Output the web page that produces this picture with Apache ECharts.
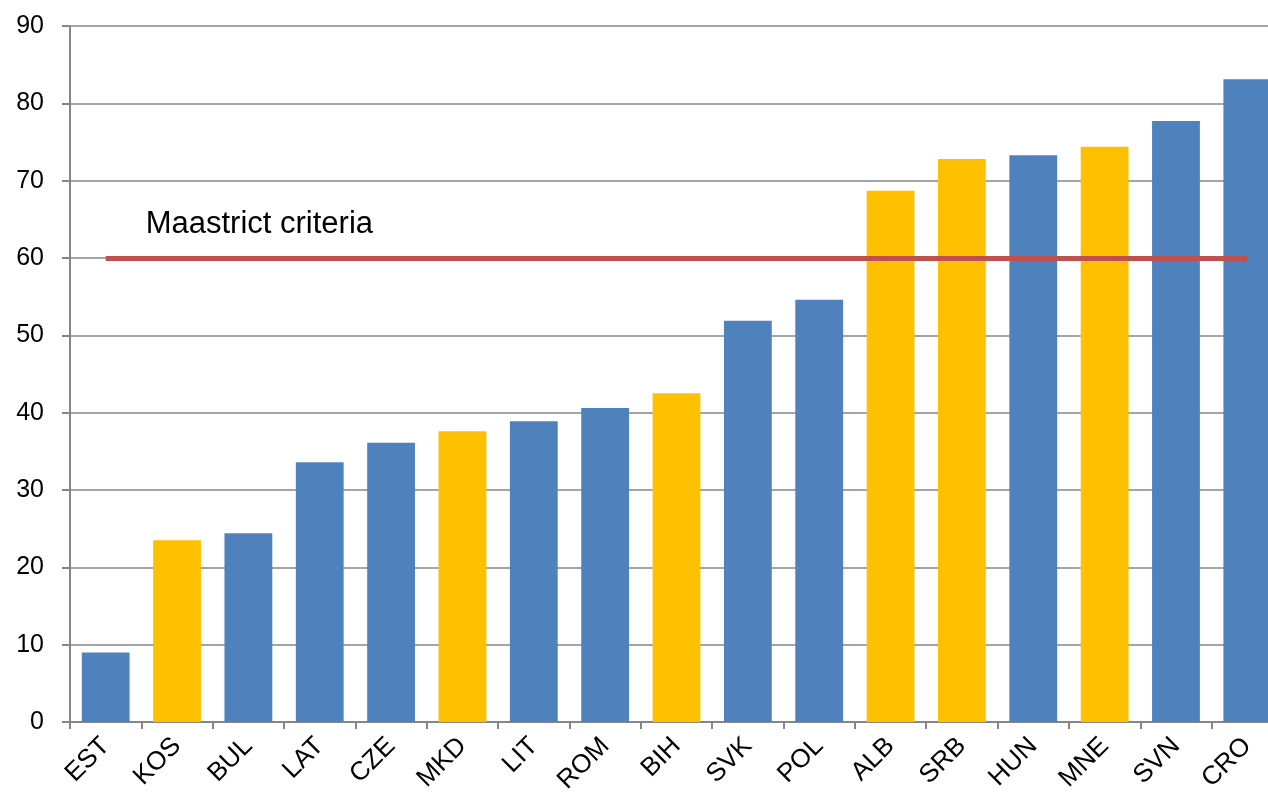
<!DOCTYPE html>
<html>
<head>
<meta charset="utf-8">
<script src="https://cdn.jsdelivr.net/npm/echarts@6/dist/echarts.min.js"></script>
<style>
  html, body { margin: 0; padding: 0; background: #fff; overflow: hidden; }
  #chart { width: 1290px; height: 800px; }
</style>
</head>
<body>
<div id="chart"></div>
<script>
// Public debt, % of GDP
const countries = ['EST','KOS','BUL','LAT','CZE','MKD','LIT','ROM','BIH','SVK','POL','ALB','SRB','HUN','MNE','SVN','CRO'];
const debt = [9.0, 23.5, 24.4, 33.6, 36.1, 37.6, 38.9, 40.6, 42.5, 51.9, 54.6, 68.7, 72.8, 73.3, 74.4, 77.7, 83.1];
// Western Balkan economies are shown in yellow
const westernBalkans = ['KOS','MKD','BIH','ALB','SRB','MNE'];
const maastrichtLimit = 60;
const yTicks = { min: 0, max: 90, interval: 10 };

const BLUE = '#4F81BD';
const YELLOW = '#FFC000';
const RED = '#C0504D';
const AXIS_GREY = '#868686';
const FONT = 'Liberation Sans, Arial, sans-serif';

const chart = echarts.init(document.getElementById('chart'));
chart.setOption({
  animation: false,
  grid: { left: 70, top: 26, width: 1213, height: 696, containLabel: false },
  xAxis: {
    type: 'category',
    data: countries,
    axisLine: { lineStyle: { color: AXIS_GREY, width: 2 } },
    axisTick: { show: true, length: 7, lineStyle: { color: AXIS_GREY, width: 2 } },
    axisLabel: {
      rotate: 45, interval: 0, margin: 20,
      fontFamily: FONT, fontSize: 26, color: '#000'
    }
  },
  yAxis: {
    type: 'value',
    min: yTicks.min, max: yTicks.max, interval: yTicks.interval,
    axisLine: { show: true, lineStyle: { color: AXIS_GREY, width: 2 } },
    axisTick: { show: true, length: 8, lineStyle: { color: AXIS_GREY, width: 2 } },
    splitLine: { lineStyle: { color: AXIS_GREY, width: 1.5 } },
    axisLabel: {
      margin: 26,
      fontFamily: FONT, fontSize: 25, color: '#000'
    }
  },
  series: [{
    type: 'bar',
    barCategoryGap: '33%',
    data: debt.map((v, i) => ({
      value: v,
      itemStyle: { color: westernBalkans.includes(countries[i]) ? YELLOW : BLUE }
    })),
    markLine: {
      silent: true,
      symbol: ['none', 'none'],
      lineStyle: { color: RED, width: 5, type: 'solid' },
      label: {
        show: true,
        position: 'insideStartTop',
        formatter: 'Maastrict criteria',
        fontFamily: FONT,
        fontSize: 31,
        color: '#000',
        distance: [40, 18]
      },
      data: [[
        { coord: [countries[0], maastrichtLimit] },
        { coord: [countries[countries.length - 1], maastrichtLimit] }
      ]]
    }
  }]
});
</script>
</body>
</html>
